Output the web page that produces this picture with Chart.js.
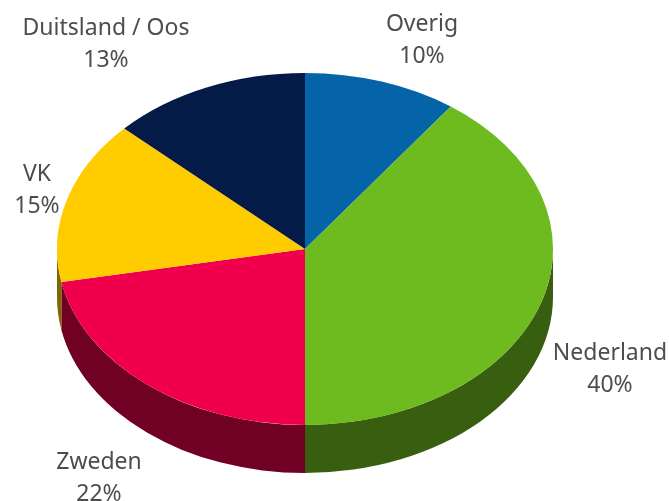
<!DOCTYPE html>
<html><head><meta charset="utf-8">
<style>html,body{margin:0;padding:0;background:#fff}canvas{display:block}</style>
<script src="https://cdn.jsdelivr.net/npm/chart.js@4"></script></head>
<body><canvas id="c" width="669" height="501"></canvas>
<script>
const categories = ['Overig', 'Nederland', 'Zweden', 'VK', 'Duitsland / Oos'];
const shares = [10, 40, 22, 15, 13];
const topColors = ['#0563A8', '#6EBB1F', '#F0004C', '#FFCC00', '#041B48'];
const wallColors = ['#033A63', '#385E10', '#700024', '#7F6600', '#020E25'];
const labelSpots = [[422,23],[610,352],[99,461],[37,173],[106,27]];
const tilt = 176/248, depth = 48;
const FONT = '400 23px "Noto Sans"';

const pie3d = {
  id: 'pie3d',
  beforeDatasetsDraw(chart) {
    const ctx = chart.ctx, arcs = chart.getDatasetMeta(0).data;
    arcs.forEach((a, i) => {
      const from = Math.max(a.startAngle, 0), to = Math.min(a.endAngle, Math.PI);
      if (to <= from) return;
      const ry = a.outerRadius * tilt;
      ctx.beginPath();
      ctx.ellipse(a.x, a.y, a.outerRadius, ry, 0, from, to);
      ctx.ellipse(a.x, a.y + depth, a.outerRadius, ry, 0, to, from, true);
      ctx.closePath();
      ctx.fillStyle = wallColors[i];
      ctx.fill();
    });
    const cy = arcs[0].y;
    ctx.save();
    ctx.translate(0, cy); ctx.scale(1, tilt); ctx.translate(0, -cy);
  },
  afterDatasetsDraw(chart) {
    const ctx = chart.ctx;
    ctx.restore();
    ctx.font = FONT; ctx.fillStyle = '#4D4D4D';
    ctx.textAlign = 'center'; ctx.textBaseline = 'alphabetic';
    categories.forEach((name, i) => {
      const [x, y] = labelSpots[i];
      ctx.fillText(name, x, y + 8);
      ctx.fillText(shares[i] + '%', x, y + 40);
    });
  }
};

new Chart(document.getElementById('c'), {
  type: 'pie',
  data: { labels: categories, datasets: [{ data: shares, backgroundColor: topColors, borderWidth: 0 }] },
  options: {
    responsive: false, animation: false,
    layout: { padding: { left: 57, right: 116, top: 1, bottom: 4 } },
    plugins: { legend: { display: false }, tooltip: { enabled: false } }
  },
  plugins: [pie3d]
});
</script></body></html>
